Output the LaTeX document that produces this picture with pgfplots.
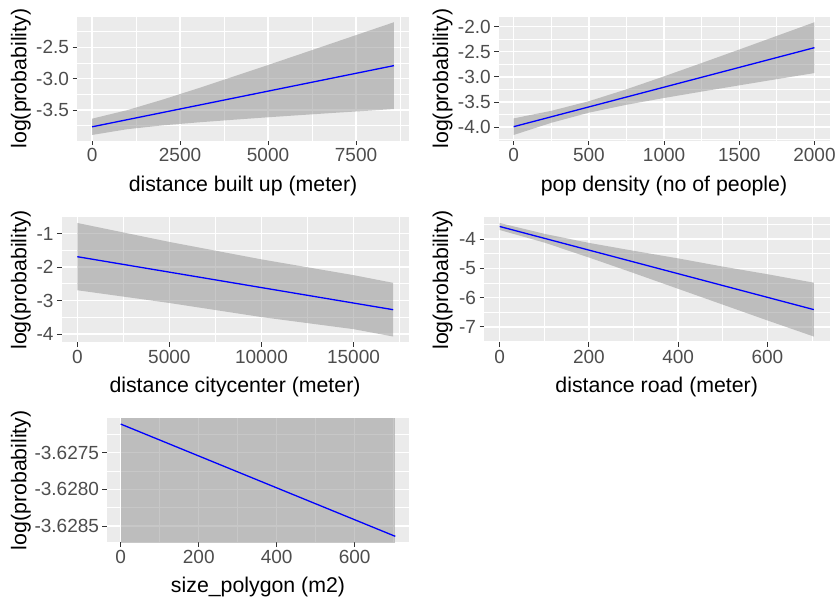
\documentclass[border=0pt]{standalone}
\usepackage{fontspec}
\setmainfont{Liberation Sans}
\usepackage{pgfplots}
\pgfplotsset{compat=1.18}
\definecolor{panelbg}{HTML}{EBEBEB}
\definecolor{ticklab}{HTML}{4D4D4D}
\definecolor{tickcol}{HTML}{333333}
\definecolor{ribbon}{HTML}{858585}
\pgfplotsset{gg/.style={scale only axis, anchor=north west,
  axis background/.style={fill=panelbg},
  axis line style={draw=none},
  grid=both,
  major grid style={white, line width=1.4pt},
  minor grid style={white, line width=0.8pt},
  tick pos=left, tick align=outside,
  major tick length=4.5pt, minor tick length=0pt,
  tick style={tickcol, line width=1pt},
  every tick label/.append style={font=\fontsize{19}{22}\selectfont, text=ticklab},
  scaled ticks=false},
  band/.style={draw=none, fill=ribbon, fill opacity=0.45},
  fit/.style={blue, line width=1.3pt}}
\newcommand{\ttl}{\fontsize{21.3}{25}\selectfont}
\begin{document}
\begin{tikzpicture}
\useasboundingbox (0pt,0pt) rectangle (836pt,-600pt);
% ---- distance built up
\begin{axis}[gg, at={(77pt,-16.6pt)}, width=332pt, height=124pt,
  xmin=-429, xmax=9006, ymin=-3.986, ymax=-2.008,
  xtick={0,2500,5000,7500}, xticklabels={0,2500,5000,7500},
  minor xtick={1250,3750,6250,8750},
  ytick={-3.5,-3,-2.5}, yticklabels={-3.5,-3.0,-2.5},
  minor ytick={-3.75,-3.25,-2.75,-2.25}]
\addplot[band] coordinates {
(0,-3.636) (1000,-3.500) (2000,-3.333) (3000,-3.154) (4000,-2.968)
(5000,-2.780) (6000,-2.590) (7000,-2.399) (8000,-2.208) (8577,-2.098)
(8577,-3.482) (8000,-3.504) (7000,-3.539) (6000,-3.576) (5000,-3.614)
(4000,-3.654) (3000,-3.696) (2000,-3.743) (1000,-3.804) (0,-3.896)} -- cycle;
\addplot[fit] coordinates {(0,-3.766) (8577,-2.790)};
\end{axis}
% ---- pop density
\begin{axis}[gg, at={(498.7pt,-16.6pt)}, width=330.8pt, height=124pt,
  xmin=-100, xmax=2100, ymin=-4.267, ymax=-1.803,
  xtick={0,500,1000,1500,2000}, xticklabels={0,500,1000,1500,2000},
  minor xtick={250,750,1250,1750},
  ytick={-4,-3.5,-3,-2.5,-2}, yticklabels={-4.0,-3.5,-3.0,-2.5,-2.0},
  minor ytick={-4.25,-3.75,-3.25,-2.75,-2.25}]
\addplot[band] coordinates {
(0,-3.825) (250,-3.675) (500,-3.484) (750,-3.247) (1000,-2.990)
(1250,-2.725) (1500,-2.457) (1750,-2.186) (2000,-1.915)
(2000,-2.925) (1750,-3.046) (1500,-3.169) (1250,-3.293) (1000,-3.420)
(750,-3.555) (500,-3.712) (250,-3.913) (0,-4.155)} -- cycle;
\addplot[fit] coordinates {(0,-3.990) (2000,-2.420)};
\end{axis}
% ---- distance citycenter
\begin{axis}[gg, at={(61.5pt,-217.3pt)}, width=347.5pt, height=124.9pt,
  xmin=-858, xmax=18013, ymin=-4.239, ymax=-0.516,
  xtick={0,5000,10000,15000}, xticklabels={0,5000,10000,15000},
  minor xtick={2500,7500,12500,17500},
  ytick={-4,-3,-2,-1}, yticklabels={-4,-3,-2,-1},
  minor ytick={-3.5,-2.5,-1.5}]
\addplot[band] coordinates {
(0,-0.685) (5000,-1.25) (10000,-1.77) (15000,-2.24) (17155,-2.47)
(17155,-4.07) (15000,-3.85) (10000,-3.49) (5000,-3.07) (0,-2.69)} -- cycle;
\addplot[fit] coordinates {(0,-1.69) (17155,-3.27)};
\end{axis}
% ---- distance road
\begin{axis}[gg, at={(484pt,-217.3pt)}, width=345.5pt, height=124.9pt,
  xmin=-35.2, xmax=739.2, ymin=-7.524, ymax=-3.256,
  xtick={0,200,400,600}, xticklabels={0,200,400,600},
  minor xtick={100,300,500,700},
  ytick={-7,-6,-5,-4}, yticklabels={-7,-6,-5,-4},
  minor ytick={-7.5,-6.5,-5.5,-4.5,-3.5}]
\addplot[band] coordinates {
(0,-3.45) (100,-3.82) (200,-4.13) (300,-4.40) (400,-4.66) (500,-4.94)
(600,-5.20) (704,-5.49)
(704,-7.33) (600,-6.78) (500,-6.24) (400,-5.70) (300,-5.16) (200,-4.63)
(100,-4.12) (0,-3.69)} -- cycle;
\addplot[fit] coordinates {(0,-3.57) (704,-6.41)};
\end{axis}
% ---- size polygon
\begin{axis}[gg, at={(107pt,-418.2pt)}, width=302pt, height=124pt,
  xmin=-35.2, xmax=739.2, ymin=-3.62872, ymax=-3.62703,
  xtick={0,200,400,600}, xticklabels={0,200,400,600},
  minor xtick={100,300,500,700},
  ytick={-3.6285,-3.628,-3.6275}, yticklabels={-3.6285,-3.6280,-3.6275},
  minor ytick={-3.62825,-3.62775,-3.62725}]
\addplot[band] coordinates {
(0,-3.6260) (704,-3.6260) (704,-3.6300) (0,-3.6300)} -- cycle;
\addplot[fit] coordinates {(0,-3.62711) (704,-3.62864)};
\end{axis}
% ---- axis titles
\node[anchor=base, font=\ttl] at (243pt,-191.5pt) {distance built up (meter)};
\node[anchor=base, font=\ttl] at (664pt,-191.5pt) {pop density (no of people)};
\node[anchor=base, font=\ttl] at (235pt,-392.5pt) {distance citycenter (meter)};
\node[anchor=base, font=\ttl] at (656.7pt,-392.5pt) {distance road (meter)};
\node[anchor=base, font=\ttl] at (258pt,-592pt) {size\_polygon (m2)};
\node[anchor=base, rotate=90, font=\ttl] at (26.5pt,-78.6pt) {log(probability)};
\node[anchor=base, rotate=90, font=\ttl] at (448pt,-78.6pt) {log(probability)};
\node[anchor=base, rotate=90, font=\ttl] at (26.5pt,-279.8pt) {log(probability)};
\node[anchor=base, rotate=90, font=\ttl] at (448pt,-279.8pt) {log(probability)};
\node[anchor=base, rotate=90, font=\ttl] at (26.5pt,-480.2pt) {log(probability)};
\end{tikzpicture}
\end{document}
